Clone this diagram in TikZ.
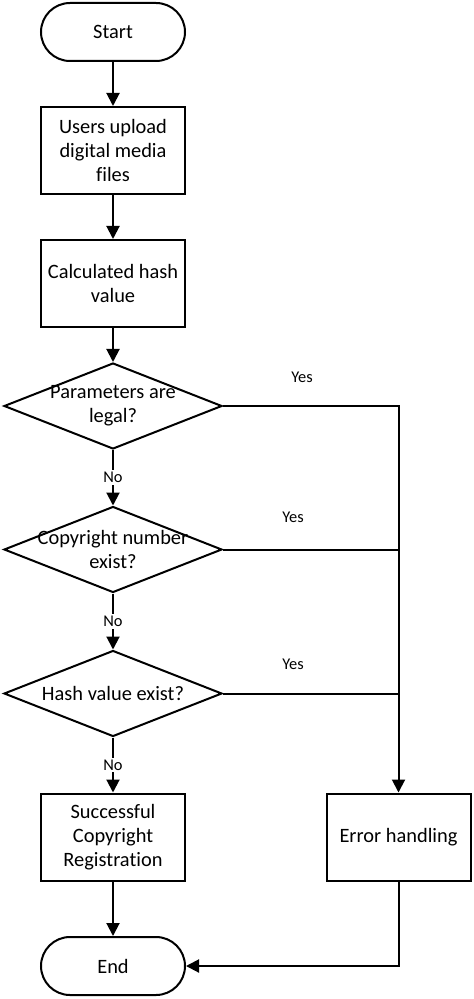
\documentclass[tikz,border=0pt]{standalone}
\usepackage{fontspec}
\setmainfont{Carlito}[Ligatures={NoCommon}]
\usetikzlibrary{arrows.meta,shapes.geometric}
\begin{document}
\begin{tikzpicture}[x=0.5pt,y=-0.5pt,
  term/.style={draw, line width=1pt, rounded corners=14.5pt, minimum width=72pt, minimum height=29pt, inner sep=0pt, font=\fontsize{10.2}{12}\selectfont},
  proc/.style={draw, line width=1pt, minimum width=72pt, minimum height=43.5pt, align=center, inner sep=0pt, font=\fontsize{10.2}{12}\selectfont},
  dia/.style={draw, diamond, line width=1pt, minimum width=109pt, minimum height=43pt, inner sep=0pt},
  diatext/.style={align=center, inner sep=0pt, font=\fontsize{10.2}{12}\selectfont},
  lbl/.style={font=\fontsize{8.2}{9.6}\selectfont, inner sep=1pt},
  nolbl/.style={font=\fontsize{8.2}{9.6}\selectfont, fill=white, inner sep=1pt},
  arr/.style={line width=1pt, -{Triangle[length=6.5pt,width=6.5pt]}},
  ln/.style={line width=1pt}
]
\useasboundingbox (0,0) rectangle (474,999);
\node[term] (start) at (113,32) {Start};
\node[proc] (b1) at (113,150.5) {Users upload\\digital media\\files};
\node[proc] (b2) at (113,283.5) {Calculated hash\\value};
\node[dia] (d1) at (113,406) {};
\node[diatext] (d1t) at (113,406) {Parameters are\\legal?};
\node[dia] (d2) at (113,549.5) {};
\node[diatext] (d2t) at (113,549.5) {Copyright number\\exist?};
\node[dia] (d3) at (113,693.5) {};
\node[diatext] (d3t) at (113,693.5) {Hash value exist?};
\node[proc] (succ) at (113,837) {Successful\\Copyright\\Registration};
\node[proc] (err) at (398.5,837) {Error handling};
\node[term] (end) at (113,966) {End};

\draw[arr] (start) -- (b1);
\draw[arr] (b1) -- (b2);
\draw[arr] (b2) -- (d1);
\draw[arr] (d1.south) -- node[nolbl] (no1) {No} (d2.north);
\draw[arr] (d2.south) -- node[nolbl] (no2) {No} (d3.north);
\draw[arr] (d3.south) -- node[nolbl] (no3) {No} (succ.north);
\draw[arr] (succ) -- (end);

\draw[arr] (d1.east) -- (d1.east -| err.north) -- (err.north);
\draw[ln] (d2.east) -- (d2.east -| err.north);
\draw[ln] (d3.east) -- (d3.east -| err.north);
\draw[arr] (err.south) |- (end.east);

\node[lbl] (y1) at (302,377) {Yes};
\node[lbl] (y2) at (293,517) {Yes};
\node[lbl] (y3) at (293,664) {Yes};
\end{tikzpicture}
\end{document}
